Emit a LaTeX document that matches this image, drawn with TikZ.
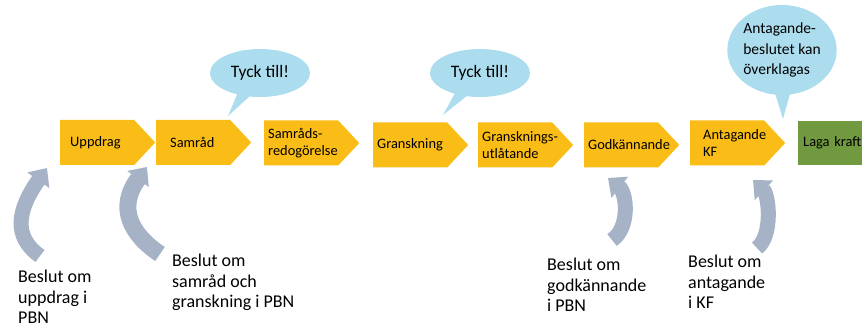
\documentclass[tikz,border=0pt]{standalone}
\usepackage{fontspec}
\setmainfont{Carlito}
\usetikzlibrary{shapes.symbols,shapes.callouts,arrows.meta}
\definecolor{etappgul}{RGB}{250,188,22}
\definecolor{etappgron}{RGB}{113,153,63}
\definecolor{bubbelbla}{RGB}{172,221,238}
\definecolor{pilgra}{RGB}{166,179,199}

\begin{document}
\begin{tikzpicture}[
		x=1pt, y=1pt,
		etapp/.style={
			signal,
			signal to=east,
			signal pointer angle=94,
			fill=etappgul,
			minimum height=45pt,
			text width=66pt,
			inner xsep=4pt,
			inner ysep=0pt,
			align=left,
			font=\fontsize{14.4}{17}\selectfont
		},
		slutetapp/.style={
			rectangle,
			fill=etappgron,
			minimum height=44pt,
			minimum width=90pt,
			text width=80pt,
			inner xsep=5pt,
			align=left,
			font=\fontsize{14.4}{17}\selectfont
		},
		pratbubbla/.style={
			ellipse callout,
			fill=bubbelbla,
			inner sep=0pt,
			align=left
		},
		beslutstext/.style={
			anchor=base west,
			inner sep=0pt,
			align=left,
			font=\fontsize{18}{20.5}\selectfont
		},
		pil/.style={
			draw=pilgra,
			line width=15pt,
			-{Triangle[width=26pt,length=15pt]}
		}
		]
		
		\useasboundingbox (0,0) rectangle (862,329);
		\clip (0,0) rectangle (862,329);
		
		% etapper
		\node[etapp, anchor=west] (uppdrag) at (60,186.5) {\hspace*{6pt}Uppdrag};
		\node[etapp, anchor=west] (samrad) at (156,186.5) {\hspace*{10pt}Samråd};
		\node[etapp, anchor=west] (samradsred) at (264,186) {\mbox{Samråds-}\\redogörelse};
		\node[etapp, anchor=west] (granskning) at (373,184) {Granskning};
		\node[etapp, anchor=west] (gransklat) at (478,184) {\mbox{Gransknings-}\\utlåtande};
		\node[etapp, anchor=west] (godkannande) at (584,184) {\mbox{Godkännande}};
		\node[etapp, anchor=west] (antagande) at (690,186) {\mbox{\hspace*{9pt}Antagande}\\\hspace*{9pt}KF};
		\node[slutetapp, anchor=west] (lagakraft) at (798,186) {Laga kraft};
		
		% pratbubblor
		\node[pratbubbla, minimum width=100pt, minimum height=48pt,
			callout absolute pointer={(228,213)},
			font=\fontsize{17.5}{20}\selectfont] (tyck1) at (260,256) {Tyck till!};
		\node[pratbubbla, minimum width=100pt, minimum height=48pt,
			callout absolute pointer={(443,214)},
			font=\fontsize{17.5}{20}\selectfont] (tyck2) at (480,256) {Tyck till!};
		\node[pratbubbla, minimum width=108pt, minimum height=90pt,
			callout absolute pointer={(783,210)},
			font=\fontsize{15.5}{20.5}\selectfont] (overklaga) at (782,279) {Antagande-\\beslutet kan\\överklagas};
		
		% beslut (base = sista raden)
		\node[beslutstext] (beslut1) at (18,5) {Beslut om\\uppdrag i\\PBN};
		\node[beslutstext] (beslut2) at (172,21) {Beslut om\\samråd och\\granskning i PBN};
		\node[beslutstext] (beslut3) at (547,17) {Beslut om\\godkännande\\i PBN};
		\node[beslutstext] (beslut4) at (688,20) {Beslut om\\antagande\\i KF};
		
		%Pilar
		\coordinate (pil1s) at (40,73);
		\coordinate (pil1e) at (47,161);
		\coordinate (pil2s) at (160,75);
		\coordinate (pil2e) at (147,162);
		\coordinate (pil3s) at (612,89);
		\coordinate (pil3e) at (608,151);
		\coordinate (pil4s) at (757,81);
		\coordinate (pil4e) at (753,149);
		
		\draw[pil] (pil1s) .. controls (12,93) and (18,120) .. (pil1e);
		\draw[pil, line width=17pt] (pil2s) .. controls (130,95) and (117,122) .. (pil2e);
		\draw[pil] (pil3s) .. controls (630,101) and (627,136) .. (pil3e);
		\draw[pil] (pil4s) .. controls (773,93) and (769,134) .. (pil4e);
		
	\end{tikzpicture}
\end{document}
